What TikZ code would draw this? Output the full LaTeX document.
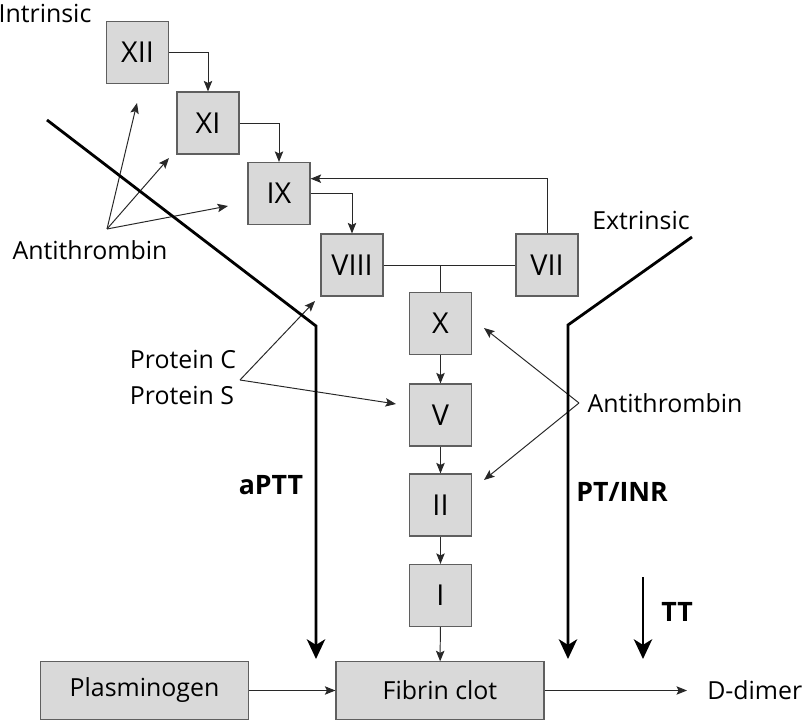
\documentclass[tikz,border=0pt]{standalone}
\usepackage{fontspec}
\setmainfont{Open Sans}
\usepackage{tikz}
\usepackage{xcolor}
\usetikzlibrary{arrows.meta,calc}

\definecolor{boxgray}{RGB}{217,217,217}
\definecolor{edgegray}{RGB}{95,95,95}
\definecolor{linegray}{RGB}{40,40,40}

\begin{document}
\begin{tikzpicture}[x=0.025cm, y=-0.025cm, >=Stealth,
    factor/.style={draw=edgegray, fill=boxgray, line width=0.8pt, minimum width=1.55cm, minimum height=1.55cm, inner sep=0pt, font=\fontsize{20.5}{24}\selectfont},
    widebox/.style={factor, minimum width=5.2cm, minimum height=1.43cm, font=\fontsize{17.7}{20}\selectfont},
    lbl/.style={font=\fontsize{17.7}{25}\selectfont, inner sep=0pt},
    testlbl/.style={font=\fontsize{19}{22}\selectfont\bfseries, inner sep=0pt},
    link/.style={draw=linegray, line width=0.7pt},
    thin/.style={link, -{Stealth[length=7.5pt,width=6pt,inset=1.5pt]}},
    thick/.style={line width=2pt, -{Stealth[length=14pt,width=13pt,inset=4pt]}}]
    \useasboundingbox (0,0) rectangle (805,722);

    % Intrinsic cascade
    \node [factor] (fxii) at (137.5,52.5) {XII};
    \node [factor] (fxi) at (208,123) {XI};
    \node [factor] (fix) at (279,193.5) {IX};
    \node [factor] (fviii) at (352,265) {VIII};
    \draw [thin] (fxii) -| (fxi);
    \draw [thin] (fxi) -| (fix);
    \draw [thin] (fix) -| (fviii);

    % Extrinsic factor VII
    \node [factor] (fvii) at (547,265) {VII};
    \draw [thin] (fvii.north) |- ([yshift=0.37cm]fix.east);

    % Common pathway
    \node [factor] (fx) at (440.5,323.5) {X};
    \node [factor] (fv) at (440.5,415) {V};
    \node [factor] (fii) at (440.5,505) {II};
    \node [factor] (fi) at (440.5,595.5) {I};
    \node [widebox] (clot) at (440,690.5) {Fibrin clot};
    \node [widebox] (plasm) at (144.5,690.5) {Plasminogen};
    \node [lbl, anchor=west] (ddimer) at (707,690.5) {D-dimer};
    \draw [link] (fviii) -- (fvii);
    \draw [link] (fx) -- (fx |- fviii);
    \draw [thin] (fx) -- (fv);
    \draw [thin] (fv) -- (fii);
    \draw [thin] (fii) -- (fi);
    \draw [thin] (fi) -- (clot);
    \draw [thin] (plasm) -- (clot);
    \draw [thin] (clot.east) -- ([xshift=-0.5cm]ddimer.west);

    % Antithrombin (left)
    \node [lbl] (atleft) at (90,250) {Antithrombin};
    \coordinate (atlfrom) at (107,229);
    \coordinate (atlxii) at (137,103);
    \coordinate (atlxi) at (169,158);
    \coordinate (atlix) at (228,206);
    \draw [thin] (atlfrom) -- (atlxii);
    \draw [thin] (atlfrom) -- (atlxi);
    \draw [thin] (atlfrom) -- (atlix);

    % Protein C / Protein S
    \node [lbl, align=left] (protcs) at (183,377.5) {Protein C\\Protein S};
    \coordinate (pcsfrom) at (240,380);
    \coordinate (pcsviii) at (315,301);
    \coordinate (pcsv) at (396,404);
    \draw [thin] (pcsfrom) -- (pcsviii);
    \draw [thin] (pcsfrom) -- (pcsv);

    % Antithrombin (right)
    \node [lbl] (atright) at (665,403) {Antithrombin};
    \coordinate (atrfrom) at (579,403);
    \coordinate (atrx) at (484,328);
    \coordinate (atrii) at (484,480);
    \draw [thin] (atrfrom) -- (atrx);
    \draw [thin] (atrfrom) -- (atrii);

    % Tests
    \coordinate (aptttop) at (47,120);
    \coordinate (apttbend) at (316,326);
    \coordinate (apttend) at (316,659);
    \draw [thick] (aptttop) -- (apttbend) -- (apttend);
    \coordinate (pttop) at (692,237);
    \coordinate (ptbend) at (568,325);
    \coordinate (ptend) at (568,659);
    \draw [thick] (pttop) -- (ptbend) -- (ptend);
    \coordinate (tttop) at (643,577);
    \coordinate (ttend) at (643,659);
    \draw [thick] (tttop) -- (ttend);

    % Labels
    \node [lbl] (intrinsic) at (45,13) {Intrinsic};
    \node [lbl] (extrinsic) at (641,220) {Extrinsic};
    \node [testlbl] (aptt) at (271,485) {aPTT};
    \node [testlbl] (ptinr) at (622,492) {PT/INR};
    \node [testlbl] (tt) at (677,612) {TT};
\end{tikzpicture}
\end{document}
